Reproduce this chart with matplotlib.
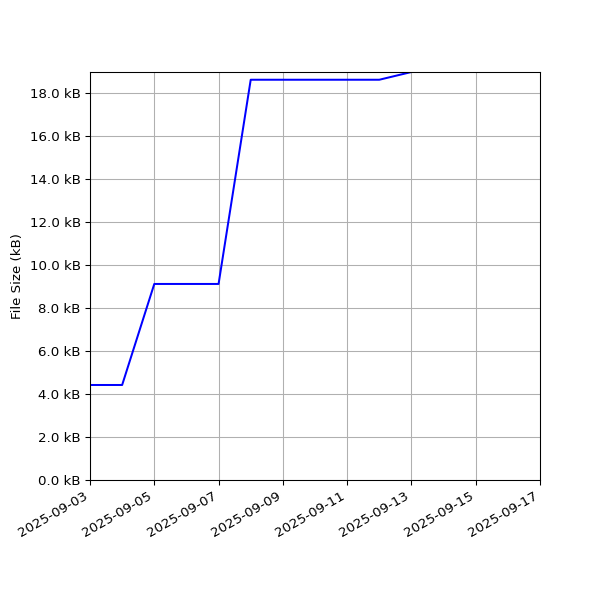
import numpy as np
import matplotlib
matplotlib.use('Agg')
import matplotlib.pyplot as plt
import matplotlib.dates as mdates
from matplotlib.ticker import FuncFormatter

dates = np.array(['2025-09-03', '2025-09-04', '2025-09-05', '2025-09-06', '2025-09-07',
                  '2025-09-08', '2025-09-09', '2025-09-10', '2025-09-11', '2025-09-12',
                  '2025-09-13'], dtype='datetime64[D]')
sizes_kb = [4.42, 4.42, 9.12, 9.12, 9.12, 18.62, 18.62, 18.62, 18.62, 18.62, 18.98]

fig, ax = plt.subplots(figsize=(6.25, 6.25), dpi=96)
ax.plot(dates, sizes_kb, color='b')
ax.set_ylabel('File Size (kB)')
ax.set_ylim(0, max(sizes_kb))
ax.set_xlim(np.datetime64('2025-09-03'), np.datetime64('2025-09-17'))
ax.set_yticks(np.arange(0, 19, 2))
ax.yaxis.set_major_formatter(FuncFormatter(lambda v, p: f'{v:.1f} kB'))
ax.xaxis.set_major_locator(mdates.DayLocator(interval=2))
ax.xaxis.set_major_formatter(mdates.DateFormatter('%Y-%m-%d'))
ax.grid(True)
fig.autofmt_xdate()
fig.subplots_adjust(left=0.15, right=0.9, top=0.88, bottom=0.2)
fig.savefig('out.png')
